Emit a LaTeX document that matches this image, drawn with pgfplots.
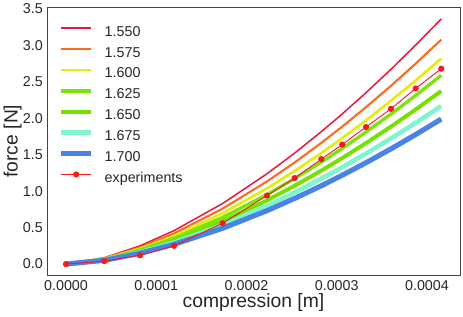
\documentclass[border=0pt]{standalone}
\usepackage{pgfplots}
\pgfplotsset{compat=1.18}
\usepackage{fontspec}
\setmainfont{Liberation Sans}
\definecolor{c1}{HTML}{E8173A}
\definecolor{c2}{HTML}{FF6A1F}
\definecolor{c3}{HTML}{E2EE10}
\definecolor{c4}{HTML}{7DE30A}
\definecolor{c5}{HTML}{76E000}
\definecolor{c6}{HTML}{7EF5CC}
\definecolor{c7}{HTML}{4A82E6}
\definecolor{cexp}{HTML}{F21A1A}
\definecolor{spine}{HTML}{444444}
\definecolor{txt}{HTML}{262626}
\begin{document}
\begin{tikzpicture}
\begin{axis}[
  scale only axis, width=412.3pt, height=267.7pt,
  xmin=-0.0000203, xmax=0.0004366, ymin=-0.15, ymax=3.523,
  scaled x ticks=false, scaled y ticks=false,
  xtick={0,0.0001,0.0002,0.0003,0.0004},
  xticklabels={0.0000,0.0001,0.0002,0.0003,0.0004},
  ytick={0,0.5,1,1.5,2,2.5,3,3.5},
  yticklabels={0.0,0.5,1.0,1.5,2.0,2.5,3.0,3.5},
  major tick length=0pt,
  axis line style={draw=spine, line width=1pt},
  tick label style={font=\fontsize{14.3}{17}\selectfont, text=txt},
  xticklabel style={anchor=base, yshift=-15pt, inner sep=0pt},
  yticklabel style={anchor=east, xshift=-4.7pt, inner sep=0pt},
  xlabel={compression [m]}, ylabel={force [N]},
  label style={font=\fontsize{19.3}{23}\selectfont, text=txt},
  xlabel style={at={(axis description cs:0.499,-0.1225)}, anchor=base, inner sep=0pt},
  ylabel style={at={(axis description cs:-0.085,0.5)}, anchor=center, inner sep=0pt},
  legend style={draw=none, fill=none, inner sep=0pt, at={(axis description cs:0.026,0.934)}, anchor=north west,
    font=\fontsize{14.3}{17}\selectfont, row sep=6.9pt,
    nodes={inner ysep=0pt, inner xsep=0pt, text height=11pt, text depth=3pt, text=txt}},
  legend cell align=left,
  legend image code/.code={\draw[mark repeat=2,mark phase=2,#1] plot coordinates {(0pt,4pt)(15pt,4pt)(30pt,4pt)} ++(11pt,0pt);},
]
\addplot[draw=c1, line width=1.5pt] coordinates {(0,0) (0.0000424,0.0872) (0.000082,0.2504) (0.0001197,0.4586) (0.0001736,0.8314) (0.0002227,1.2384) (0.0002534,1.5229) (0.0002829,1.8163) (0.0003061,2.0602) (0.0003324,2.3509) (0.0003601,2.6722) (0.0003875,3.0045) (0.0004158,3.3633)};
\addlegendentry{1.550}
\addplot[draw=c2, line width=2.1pt] coordinates {(0,0) (0.0000424,0.0798) (0.000082,0.2292) (0.0001197,0.4198) (0.0001736,0.7611) (0.0002227,1.1336) (0.0002534,1.3941) (0.0002829,1.6627) (0.0003061,1.8859) (0.0003324,2.1520) (0.0003601,2.4461) (0.0003875,2.7503) (0.0004158,3.0788)};
\addlegendentry{1.575}
\addplot[draw=c3, line width=2.7pt] coordinates {(0,0) (0.0000424,0.0731) (0.000082,0.2100) (0.0001197,0.3844) (0.0001736,0.6971) (0.0002227,1.0382) (0.0002534,1.2767) (0.0002829,1.5228) (0.0003061,1.7272) (0.0003324,1.9709) (0.0003601,2.2403) (0.0003875,2.5189) (0.0004158,2.8197)};
\addlegendentry{1.600}
\addplot[draw=c4, line width=3.3pt] coordinates {(0,0) (0.0000424,0.0671) (0.000082,0.1928) (0.0001197,0.3531) (0.0001736,0.6403) (0.0002227,0.9536) (0.0002534,1.1727) (0.0002829,1.3987) (0.0003061,1.5865) (0.0003324,1.8103) (0.0003601,2.0577) (0.0003875,2.3136) (0.0004158,2.5899)};
\addlegendentry{1.625}
\addplot[draw=c5, line width=3.9pt] coordinates {(0,0) (0.0000424,0.0615) (0.000082,0.1768) (0.0001197,0.3237) (0.0001736,0.5868) (0.0002227,0.8741) (0.0002534,1.0749) (0.0002829,1.2820) (0.0003061,1.4541) (0.0003324,1.6593) (0.0003601,1.8861) (0.0003875,2.1206) (0.0004158,2.3739)};
\addlegendentry{1.650}
\addplot[draw=c6, line width=4.5pt] coordinates {(0,0) (0.0000424,0.0562) (0.000082,0.1615) (0.0001197,0.2957) (0.0001736,0.5361) (0.0002227,0.7985) (0.0002534,0.9819) (0.0002829,1.1711) (0.0003061,1.3284) (0.0003324,1.5158) (0.0003601,1.7229) (0.0003875,1.9372) (0.0004158,2.1685)};
\addlegendentry{1.675}
\addplot[draw=c7, line width=5.1pt] coordinates {(0,0) (0.0000424,0.0516) (0.000082,0.1481) (0.0001197,0.2713) (0.0001736,0.4919) (0.0002227,0.7326) (0.0002534,0.9009) (0.0002829,1.0745) (0.0003061,1.2188) (0.0003324,1.3907) (0.0003601,1.5808) (0.0003875,1.7774) (0.0004158,1.9896)};
\addlegendentry{1.700}
\addplot[draw=cexp, line width=0.9pt, mark=*, mark size=2.6pt, mark options={solid, fill=cexp, draw=cexp}] coordinates {(0,0) (0.0000424,0.04) (0.000082,0.12) (0.0001197,0.25) (0.0001736,0.56) (0.0002227,0.94) (0.0002534,1.18) (0.0002829,1.44) (0.0003061,1.64) (0.0003324,1.88) (0.0003601,2.13) (0.0003875,2.41) (0.0004158,2.68)};
\addlegendentry{experiments}
\coordinate (bl) at (rel axis cs:0,0);
\coordinate (tr) at (rel axis cs:1,1);
\end{axis}
\pgfresetboundingbox
\path ([shift={(-47.7pt,-41pt)}]bl) rectangle ([shift={(3pt,7.3pt)}]tr);
\end{tikzpicture}
\end{document}
